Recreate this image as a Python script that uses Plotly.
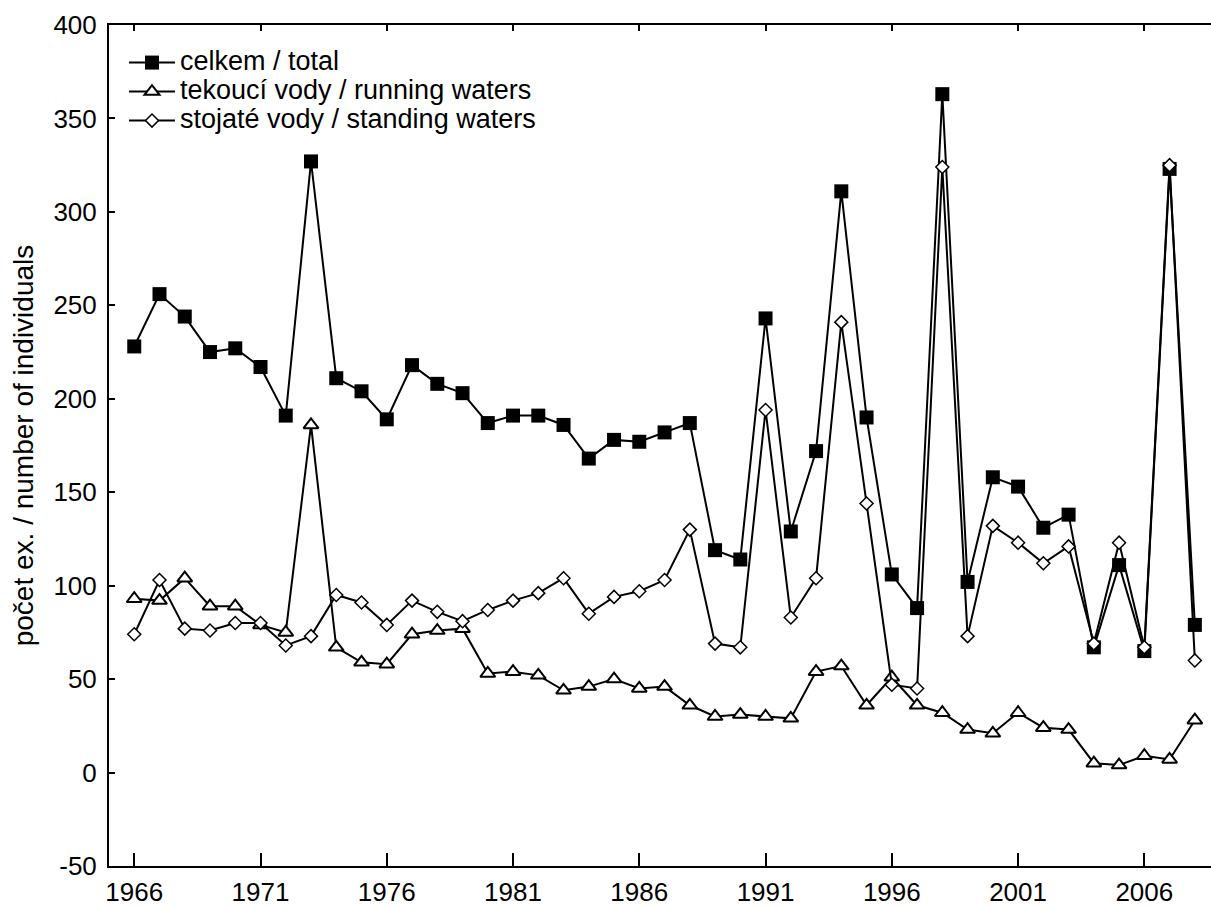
import plotly.graph_objects as go

years = list(range(1966, 2009))

total = [228, 256, 244, 225, 227, 217, 191, 327, 211, 204, 189, 218, 208, 203, 187, 191,
         191, 186, 168, 178, 177, 182, 187, 119, 114, 243, 129, 172, 311, 190, 106, 88,
         363, 102, 158, 153, 131, 138, 67, 111, 65, 323, 79]

running = [93, 92, 104, 89, 89, 79, 75, 186, 67, 59, 58, 74, 76, 77, 53, 54,
           52, 44, 46, 50, 45, 46, 36, 30, 31, 30, 29, 54, 57, 36, 51, 36,
           32, 23, 21, 32, 24, 23, 5, 4, 9, 7, 28]

standing = [74, 103, 77, 76, 80, 80, 68, 73, 95, 91, 79, 92, 86, 81, 87, 92,
            96, 104, 85, 94, 97, 103, 130, 69, 67, 194, 83, 104, 241, 144, 47, 45,
            324, 73, 132, 123, 112, 121, 69, 123, 67, 325, 60]

names = ["celkem / total", "tekoucí vody / running waters", "stojaté vody / standing waters"]
x_ticks = [1966, 1971, 1976, 1981, 1986, 1991, 1996, 2001, 2006]
y_ticks = [-50, 0, 50, 100, 150, 200, 250, 300, 350, 400]

FONT = "Liberation Sans, Arial, sans-serif"


def big(label):
    return '<span style="font-size:27px">' + label + '</span>'


fig = go.Figure()
fig.add_trace(go.Scatter(
    x=years, y=total, name=big(names[0]), mode="lines+markers",
    line=dict(color="black", width=2),
    marker=dict(symbol="square", size=14, color="black", line=dict(width=0))))
fig.add_trace(go.Scatter(
    x=years, y=running, name=big(names[1]), mode="lines+markers",
    line=dict(color="black", width=2),
    marker=dict(symbol="triangle-up", size=13, color="white", line=dict(color="black", width=2))))
fig.add_trace(go.Scatter(
    x=years, y=standing, name=big(names[2]), mode="lines+markers",
    line=dict(color="black", width=2),
    marker=dict(symbol="diamond", size=10, color="white", line=dict(color="black", width=1.5))))

fig.update_layout(
    width=1211, height=907,
    margin=dict(l=109, r=0, t=25, b=41),
    paper_bgcolor="white", plot_bgcolor="white",
    font=dict(family=FONT, size=26, color="black"),
    showlegend=True,
    legend=dict(x=0.0136, y=0.9785, xanchor="left", yanchor="top",
                bgcolor="rgba(0,0,0,0)", borderwidth=0,
                font=dict(size=20), itemwidth=46,
                xref="paper", yref="paper"),
    xaxis=dict(range=[1965, 2008.64], tickvals=x_ticks, ticktext=[str(v) for v in x_ticks],
               showgrid=False, zeroline=False, showline=True, linecolor="black", linewidth=2,
               ticks="inside", ticklen=13, tickwidth=1.5, tickcolor="black",
               ticklabelstandoff=2, tickfont=dict(size=26)),
    xaxis2=dict(range=[1965, 2008.64], overlaying="x", side="top", tickvals=x_ticks,
                showticklabels=False, showgrid=False, zeroline=False, showline=True,
                linecolor="black", linewidth=2, ticks="inside", ticklen=6, tickwidth=1.5,
                tickcolor="black"),
    yaxis=dict(range=[-50, 400], tickvals=y_ticks, ticktext=[str(v) for v in y_ticks],
               showgrid=False, zeroline=False, showline=True, linecolor="black", linewidth=2,
               ticks="inside", ticklen=6, tickwidth=1.5, tickcolor="black",
               ticklabelstandoff=5, tickfont=dict(size=26),
               title=dict(text="počet ex. / number of individuals", font=dict(size=28), standoff=12)),
)
# invisible trace to activate the top axis
fig.add_trace(go.Scatter(x=[years[0]], y=[total[0]], xaxis="x2", mode="markers",
                         marker=dict(opacity=0), showlegend=False, hoverinfo="skip"))

fig.write_html("out.html")
